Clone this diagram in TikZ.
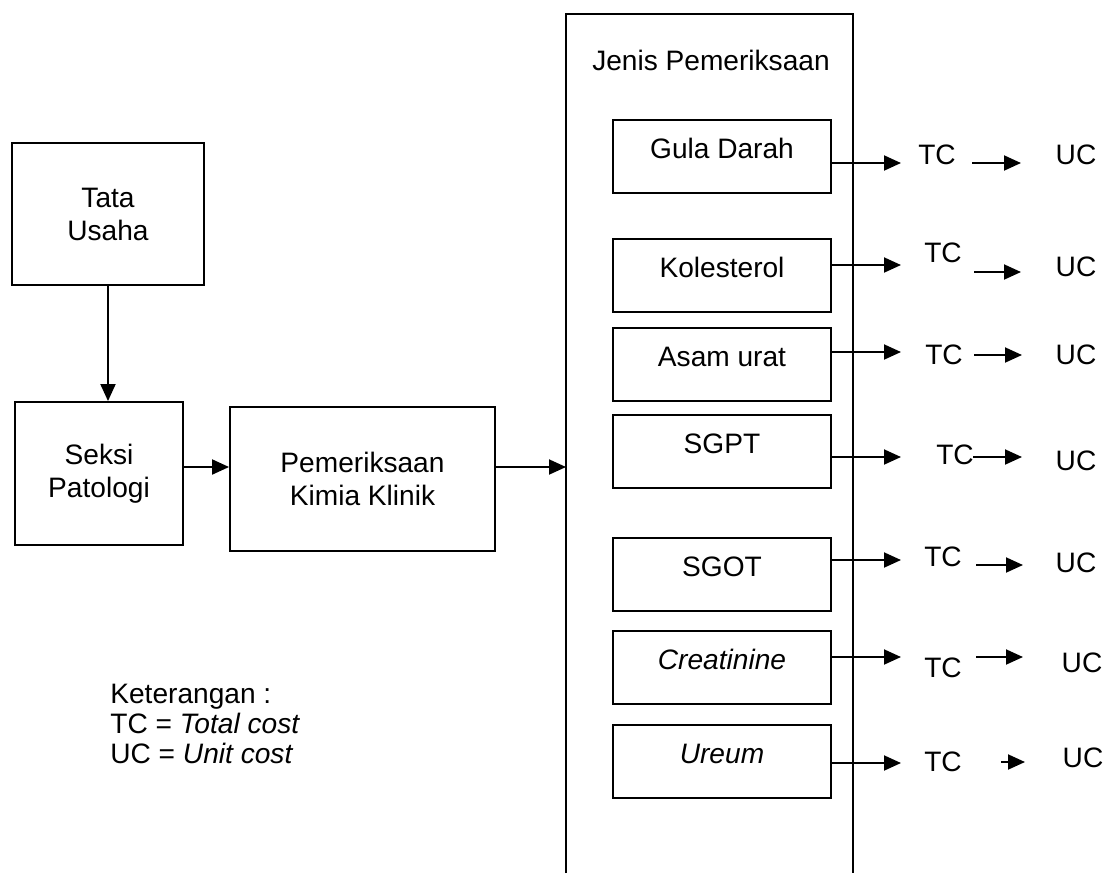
\documentclass[tikz,border=0pt]{standalone}
\usepackage{fontspec}
\setmainfont{Liberation Sans}
\usetikzlibrary{positioning}
\usetikzlibrary{calc}
\usetikzlibrary{arrows.meta}

\tikzset{
    unit/.style={draw, line width=1.1pt, align=center},
    pbox/.style={draw, line width=1.1pt, minimum width=4.36cm, inner xsep=0pt, inner ysep=0pt,
                 text height=0.77cm, text depth=0.69cm},
    cost/.style={inner sep=0pt},
    arr/.style={line width=1.1pt, -{Triangle[length=0.34cm, width=0.3cm]}}
}

\begin{document}
\begin{tikzpicture}[x=0.02cm, y=-0.02cm, every node/.style={font=\fontsize{16}{18.8}\selectfont}]
    \useasboundingbox (0,0) rectangle (1106,873);

    % left part
    \node[unit, minimum width=3.84cm, minimum height=2.84cm] (tata) at (108,214) {Tata\\Usaha};
    \node[unit, minimum width=3.36cm, minimum height=2.86cm] (seksi) at (99,473.5) {Seksi\\Patologi};
    \node[unit, minimum width=5.3cm, minimum height=2.88cm] (kimia) at (362.5,479) {Pemeriksaan\\Kimia Klinik};
    \coordinate (masuk) at (566,467);
    \draw[arr] (tata.south) -- (tata.south |- seksi.north);
    \draw[arr] (seksi.east |- masuk) -- (kimia.west |- masuk);
    \draw[arr] (kimia.east |- masuk) -- (masuk);

    % open box on the right
    \draw[line width=1.1pt] (566,873) -- (566,14) -- (853,14) -- (853,873);
    \node (jenis) at (711,60) {Jenis Pemeriksaan};

    \foreach \nm/\txt/\ytop/\ya/\tcx/\tcy/\xa/\xb/\yb/\ucx/\ucy in {
        gula/{Gula Darah}/119/163/937/155/972/1021/163/1076/155,
        kol/{Kolesterol}/238/265/943/253/974/1021/272/1076/267,
        asam/{Asam urat}/327/352/944/355/974/1022/355/1076/355,
        sgpt/{SGPT}/414/457/955/455/973/1022/457/1076/461,
        sgot/{SGOT}/537/560/943/557/976/1023/565/1076/563,
        creat/{\itshape Creatinine}/630/657/943/668/976/1023/657/1082/663,
        ureum/{\itshape Ureum}/724/763/943/762/1001/1025/762/1083/758} {
        \node[pbox, anchor=north] (\nm) at (722,\ytop) {\txt};
        \coordinate (\nm-a) at (901,\ya);
        \draw[arr] (\nm.east |- \nm-a) -- (\nm-a);
        \node[cost] (\nm-tc) at (\tcx,\tcy) {TC};
        \coordinate (\nm-b) at (\xa,\yb);
        \coordinate (\nm-c) at (\xb,\yb);
        \draw[arr] (\nm-b) -- (\nm-c);
        \node[cost] (\nm-uc) at (\ucx,\ucy) {UC};
    }

    % legend
    \node[cost, align=left, anchor=west, font=\fontsize{16}{17}\selectfont] (ket) at (110,724)
        {Keterangan :\\TC = \textit{Total cost}\\UC = \textit{Unit cost}};
\end{tikzpicture}
\end{document}
